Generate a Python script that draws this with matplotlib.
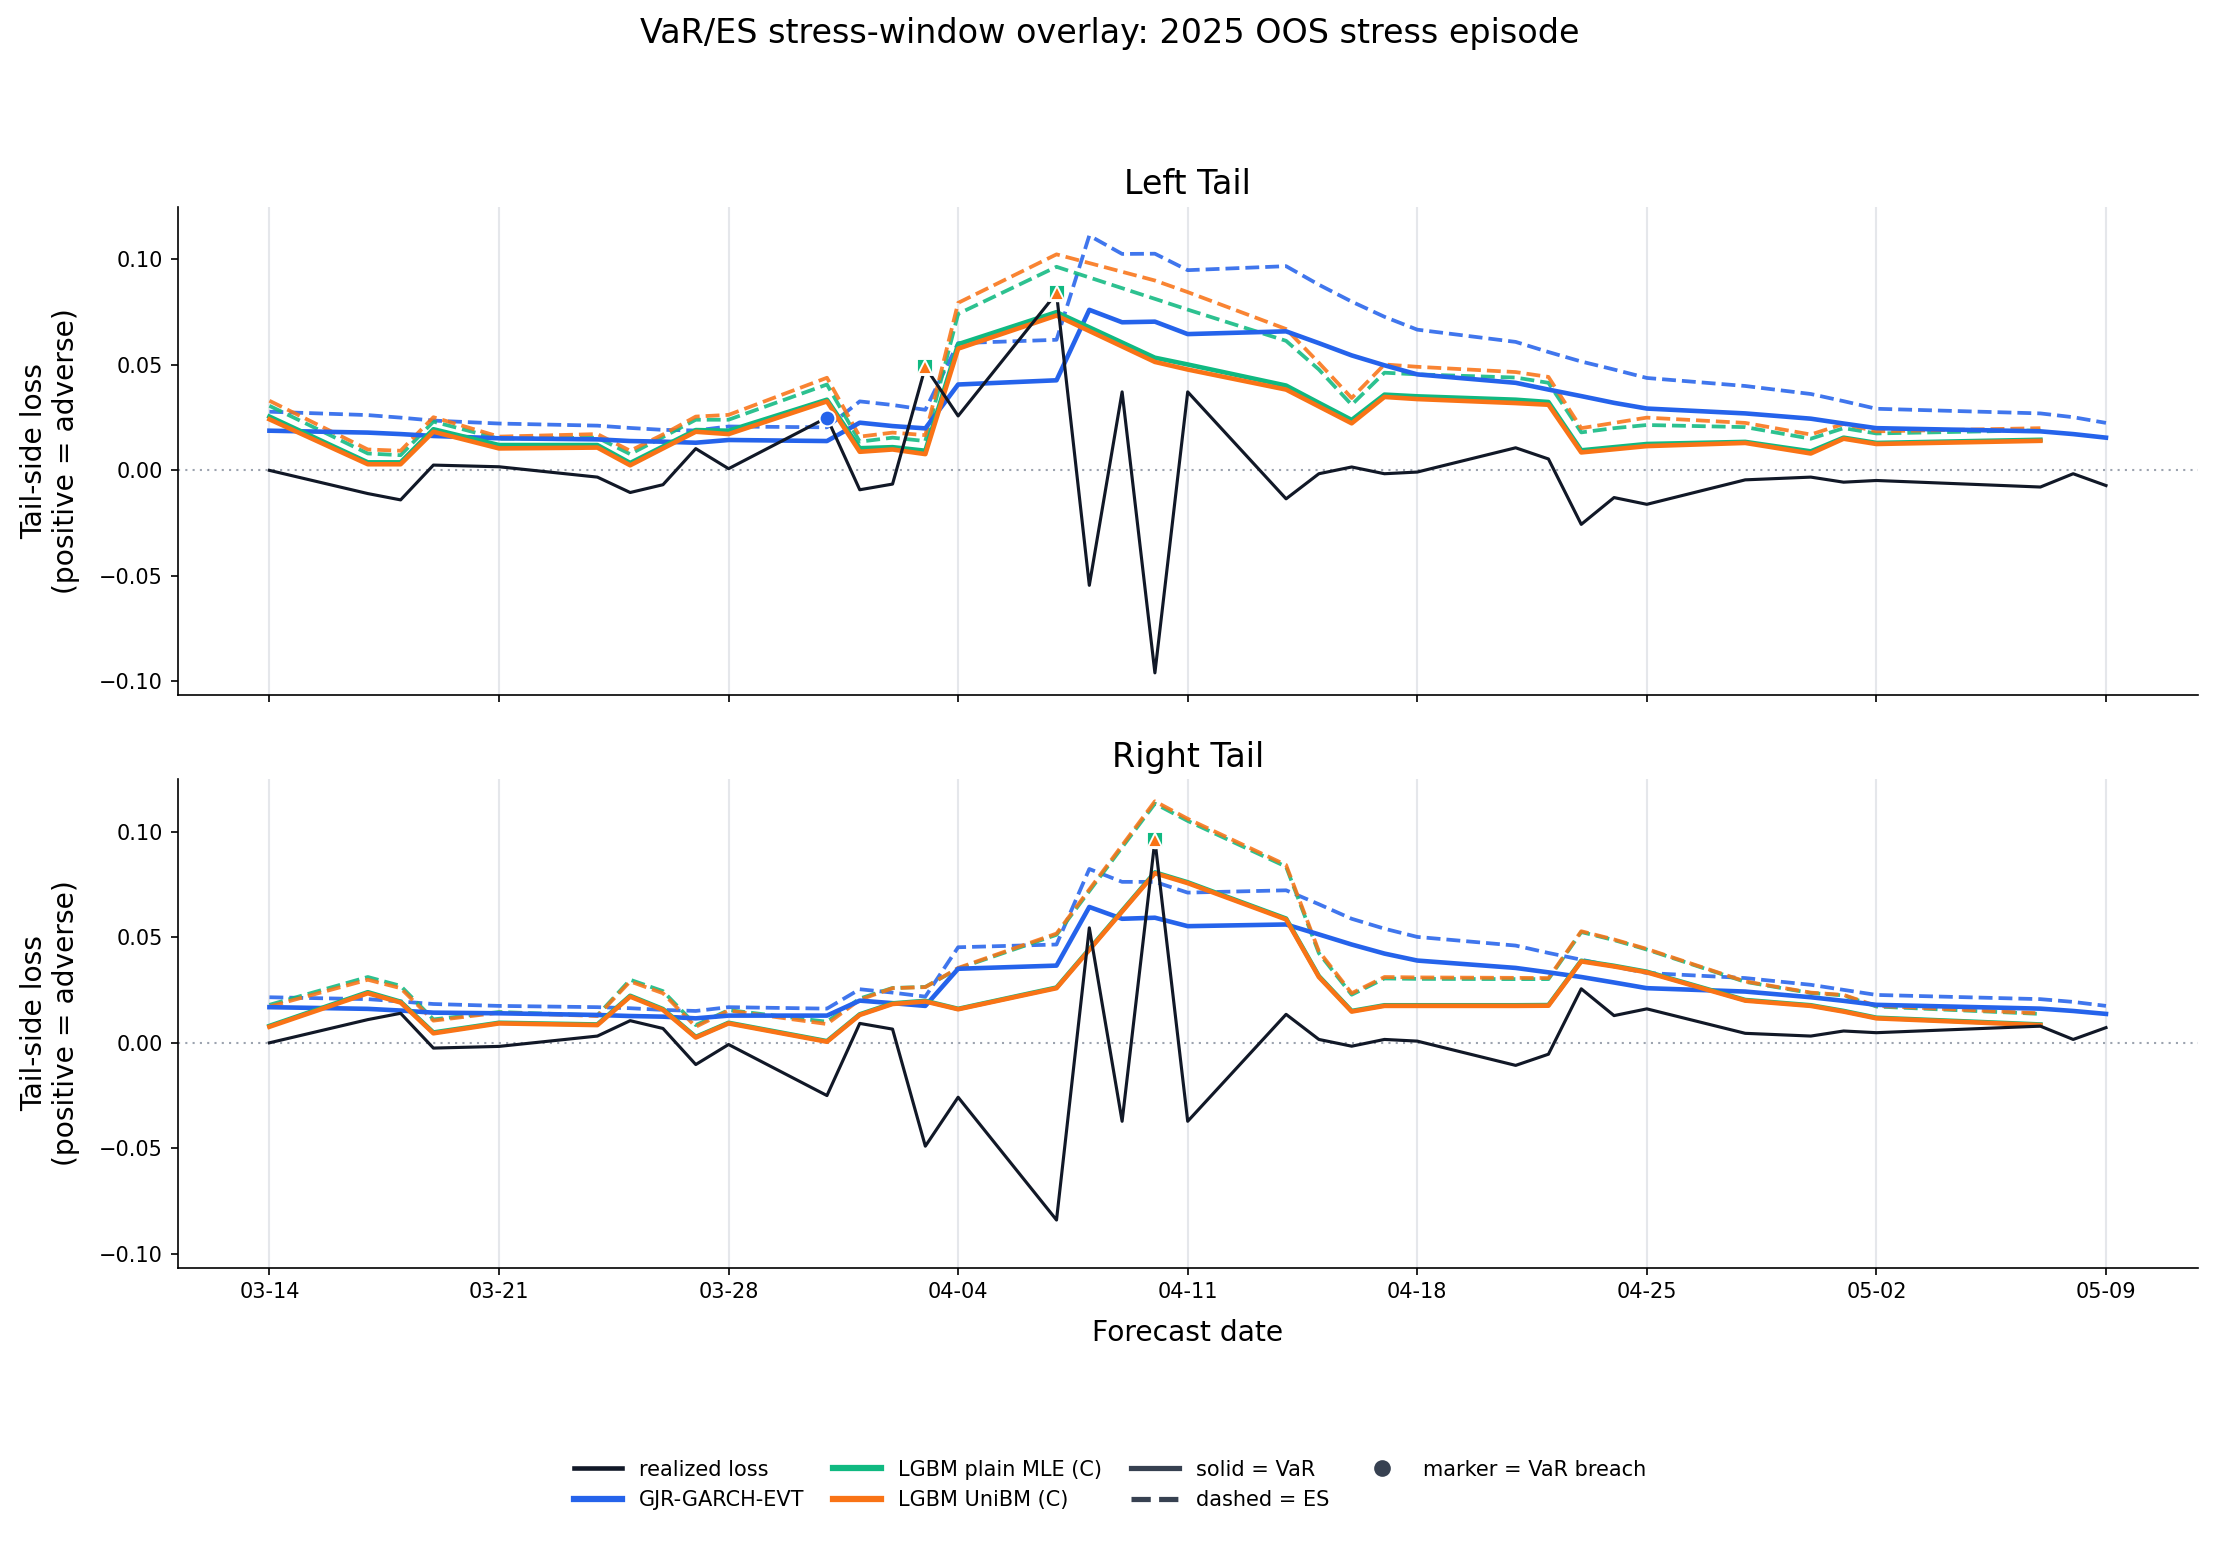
import numpy as np
import pandas as pd
import matplotlib
matplotlib.use("Agg")
import matplotlib.pyplot as plt
import matplotlib.dates as mdates
from matplotlib.lines import Line2D

nan = np.nan

dates = pd.to_datetime([
    "2025-03-14", "2025-03-17", "2025-03-18", "2025-03-19", "2025-03-21",
    "2025-03-24", "2025-03-25", "2025-03-26", "2025-03-27", "2025-03-28",
    "2025-03-31", "2025-04-01", "2025-04-02", "2025-04-03", "2025-04-04",
    "2025-04-07", "2025-04-08", "2025-04-09", "2025-04-10", "2025-04-11",
    "2025-04-14", "2025-04-15", "2025-04-16", "2025-04-17", "2025-04-18",
    "2025-04-21", "2025-04-22", "2025-04-23", "2025-04-24", "2025-04-25",
    "2025-04-28", "2025-04-30", "2025-05-01", "2025-05-02", "2025-05-07",
    "2025-05-08", "2025-05-09",
])

# realized loss for the left tail (right tail = negative of it)
realized_left = [
    0.000, -0.011, -0.014, 0.0025, 0.0017, -0.0032, -0.0105, -0.0068, 0.0103, 0.0008,
    0.025, -0.0092, -0.0065, 0.049, 0.0258, 0.084, -0.0545, 0.0372, -0.096, 0.0372,
    -0.0135, -0.0016, 0.0016, -0.0016, -0.0008, 0.0107, 0.0054, -0.0256, -0.0129, -0.0161,
    -0.0045, -0.0032, -0.0056, -0.0048, -0.0079, -0.0016, -0.0072,
]

# ---------------- Left tail ----------------
garch_var_left = [
    0.0188, 0.0179, 0.0172, 0.0163, 0.0152, 0.0147, 0.0139, 0.0136, 0.0131, 0.0144,
    0.0139, 0.0226, 0.0210, 0.0199, 0.0407, 0.0427, 0.0761, 0.0702, 0.0705, 0.0646,
    0.0659, 0.0603, 0.0545, 0.0498, 0.0455, 0.0415, 0.0383, 0.0352, 0.0320, 0.0293,
    0.0270, 0.0245, 0.0222, 0.0200, 0.0185, 0.0172, 0.0155,
]
garch_es_left = [
    0.0278, 0.0262, 0.0250, 0.0236, 0.0222, 0.0212, 0.0201, 0.0192, 0.0189, 0.0208,
    0.0204, 0.0327, 0.0310, 0.0287, 0.0603, 0.0619, 0.1113, 0.1026, 0.1027, 0.0949,
    0.0968, 0.0880, 0.0800, 0.0728, 0.0667, 0.0609, 0.0561, 0.0516, 0.0478, 0.0438,
    0.0400, 0.0362, 0.0328, 0.0292, 0.0270, 0.0252, 0.0225,
]
plain_var_left = [
    0.0255, 0.0038, 0.0038, 0.0195, 0.0120, 0.0120, 0.0035, 0.0113, 0.0191, 0.0188,
    0.0335, 0.0105, 0.0110, 0.0093, 0.0598, 0.0750, nan, nan, 0.0534, 0.0502,
    0.0402, 0.0320, 0.0239, 0.0359, 0.0351, 0.0335, 0.0324, 0.0095, 0.0110, 0.0125,
    0.0135, 0.0090, 0.0155, 0.0130, 0.0145, nan, nan,
]
plain_es_left = [
    0.0306, 0.0080, 0.0072, 0.0231, 0.0150, 0.0155, 0.0077, 0.0158, 0.0240, 0.0240,
    0.0407, 0.0136, 0.0155, 0.0139, 0.0742, 0.0965, nan, nan, 0.0813, 0.0762,
    0.0614, 0.0478, 0.0311, 0.0463, 0.0455, 0.0440, 0.0415, 0.0180, 0.0200, 0.0215,
    0.0205, 0.0150, 0.0200, 0.0175, 0.0190, nan, nan,
]
unibm_var_left = [
    0.0242, 0.0029, 0.0029, 0.0183, 0.0104, 0.0108, 0.0024, 0.0104, 0.0183, 0.0172,
    0.0327, 0.0088, 0.0099, 0.0077, 0.0577, 0.0734, nan, nan, 0.0514, 0.0478,
    0.0383, 0.0303, 0.0223, 0.0348, 0.0338, 0.0319, 0.0311, 0.0085, 0.0100, 0.0115,
    0.0130, 0.0080, 0.0150, 0.0125, 0.0140, nan, nan,
]
unibm_es_left = [
    0.0330, 0.0099, 0.0093, 0.0252, 0.0160, 0.0172, 0.0093, 0.0170, 0.0255, 0.0263,
    0.0439, 0.0160, 0.0179, 0.0167, 0.0794, 0.1024, nan, nan, 0.0900, 0.0845,
    0.0670, 0.0510, 0.0343, 0.0502, 0.0491, 0.0466, 0.0443, 0.0200, 0.0225, 0.0250,
    0.0225, 0.0170, 0.0220, 0.0185, 0.0200, nan, nan,
]

# ---------------- Right tail ----------------
garch_var_right = [
    0.0169, 0.0161, 0.0153, 0.0143, 0.0140, 0.0132, 0.0127, 0.0124, 0.0116, 0.0129,
    0.0129, 0.0200, 0.0188, 0.0175, 0.0351, 0.0366, 0.0644, 0.0588, 0.0593, 0.0553,
    0.0561, 0.0514, 0.0466, 0.0423, 0.0390, 0.0355, 0.0334, 0.0312, 0.0286, 0.0259,
    0.0243, 0.0216, 0.0199, 0.0180, 0.0162, 0.0151, 0.0137,
]
garch_es_right = [
    0.0216, 0.0207, 0.0196, 0.0184, 0.0175, 0.0169, 0.0164, 0.0156, 0.0151, 0.0169,
    0.0162, 0.0254, 0.0238, 0.0219, 0.0453, 0.0466, 0.0824, 0.0763, 0.0763, 0.0712,
    0.0723, 0.0657, 0.0588, 0.0541, 0.0502, 0.0461, 0.0426, 0.0394, 0.0362, 0.0331,
    0.0307, 0.0275, 0.0251, 0.0227, 0.0207, 0.0194, 0.0175,
]
plain_var_right = [
    0.0080, 0.0240, 0.0195, 0.0049, 0.0095, 0.0087, 0.0223, 0.0160, 0.0028, 0.0095,
    0.0008, 0.0135, 0.0187, 0.0199, 0.0161, 0.0262, nan, nan, 0.0808, 0.0761,
    0.0589, 0.0316, 0.0151, 0.0178, 0.0178, 0.0178, 0.0179, 0.0389, 0.0365, 0.0337,
    0.0203, 0.0178, 0.0151, 0.0119, 0.0087, nan, nan,
]
plain_es_right = [
    0.0180, 0.0312, 0.0270, 0.0111, 0.0146, 0.0130, 0.0299, 0.0245, 0.0084, 0.0155,
    0.0100, 0.0210, 0.0260, 0.0265, 0.0352, 0.0512, nan, nan, 0.1134, 0.1052,
    0.0835, 0.0425, 0.0228, 0.0305, 0.0303, 0.0302, 0.0302, 0.0525, 0.0487, 0.0442,
    0.0289, 0.0236, 0.0225, 0.0172, 0.0137, nan, nan,
]
unibm_var_right = [
    0.0076, 0.0235, 0.0191, 0.0045, 0.0092, 0.0084, 0.0219, 0.0156, 0.0025, 0.0092,
    0.0005, 0.0132, 0.0184, 0.0196, 0.0159, 0.0259, nan, nan, 0.0804, 0.0757,
    0.0585, 0.0312, 0.0148, 0.0175, 0.0175, 0.0175, 0.0176, 0.0386, 0.0362, 0.0334,
    0.0200, 0.0175, 0.0148, 0.0116, 0.0084, nan, nan,
]
unibm_es_right = [
    0.0172, 0.0299, 0.0259, 0.0105, 0.0143, 0.0127, 0.0291, 0.0235, 0.0076, 0.0153,
    0.0089, 0.0204, 0.0259, 0.0264, 0.0355, 0.0518, nan, nan, 0.1145, 0.1062,
    0.0843, 0.0434, 0.0235, 0.0312, 0.0310, 0.0308, 0.0307, 0.0529, 0.0490, 0.0445,
    0.0291, 0.0238, 0.0227, 0.0175, 0.0140, nan, nan,
]

model_names = ["GJR-GARCH-EVT", "LGBM plain MLE (C)", "LGBM UniBM (C)"]
model_colors = ["#2563eb", "#10b981", "#f97316"]
model_markers = ["o", "s", "^"]
C_REAL = "#111827"
C_PROXY = "#374151"

panels = [
    ("Left Tail", np.array(realized_left),
     [(garch_var_left, garch_es_left), (plain_var_left, plain_es_left), (unibm_var_left, unibm_es_left)]),
    ("Right Tail", -np.array(realized_left),
     [(garch_var_right, garch_es_right), (plain_var_right, plain_es_right), (unibm_var_right, unibm_es_right)]),
]

fig, axes = plt.subplots(2, 1, figsize=(14.8, 10.28), dpi=150, sharex=True, sharey=True)
fig.subplots_adjust(left=0.080, right=0.990, top=0.866, bottom=0.178, hspace=0.172)

x = np.array(dates)
for ax, (title, realized, models) in zip(axes, panels):
    ax.axhline(0, color="#9ca3af", lw=1.0, ls=(0, (1, 2.5)), zorder=1)
    for (var, es), color in zip(models, model_colors):
        var = np.array(var, dtype=float)
        es = np.array(es, dtype=float)
        m = ~np.isnan(var)
        ax.plot(x[~np.isnan(es)], es[~np.isnan(es)], color=color, lw=1.8, ls="--", alpha=0.88, zorder=2)
        ax.plot(x[m], var[m], color=color, lw=2.2, ls="-", zorder=2.5)
    ax.plot(x, realized, color=C_REAL, lw=1.5, zorder=3)
    for (var, es), color, mk in zip(models, model_colors, model_markers):
        var = np.array(var, dtype=float)
        m = ~np.isnan(var)
        br = np.zeros(len(var), dtype=bool)
        br[m] = realized[m] > var[m]
        ms = 7.5 if mk != "^" else 7.0
        ax.plot(x[br], realized[br], ls="none", marker=mk, ms=ms, color=color,
                mec="white", mew=0.9, zorder=5)
    ax.set_title(title, fontsize=16)
    ax.set_ylabel("Tail-side loss\n(positive = adverse)", fontsize=13.5, labelpad=9)
    ax.grid(axis="x", color="#e5e7eb", lw=1.0)
    ax.grid(axis="y", visible=False)
    ax.set_axisbelow(True)
    ax.spines["top"].set_visible(False)
    ax.spines["right"].set_visible(False)
    ax.tick_params(labelsize=10)

axes[1].xaxis.set_major_locator(mdates.WeekdayLocator(byweekday=mdates.FR, interval=1))
axes[1].xaxis.set_major_formatter(mdates.DateFormatter("%m-%d"))
axes[1].set_xlabel("Forecast date", fontsize=13.5, labelpad=8)

fig.suptitle("VaR/ES stress-window overlay: 2025 OOS stress episode", fontsize=16, y=0.978, va="center")

handles = [
    Line2D([], [], color=C_REAL, lw=2.2, label="realized loss"),
    Line2D([], [], color=model_colors[0], lw=3.0, label=model_names[0]),
    Line2D([], [], color=model_colors[1], lw=3.0, label=model_names[1]),
    Line2D([], [], color=model_colors[2], lw=3.0, label=model_names[2]),
    Line2D([], [], color=C_PROXY, lw=2.5, ls="-", label="solid = VaR"),
    Line2D([], [], color=C_PROXY, lw=2.5, ls="--", label="dashed = ES"),
    Line2D([], [], color=C_PROXY, ls="none", marker="o", ms=7, label="marker = VaR breach"),
]
fig.legend(handles=handles, loc="center", bbox_to_anchor=(0.5, 0.037), ncol=4,
           frameon=False, fontsize=10, handlelength=2.3, columnspacing=1.4)

fig.savefig("out.png", dpi=150)
